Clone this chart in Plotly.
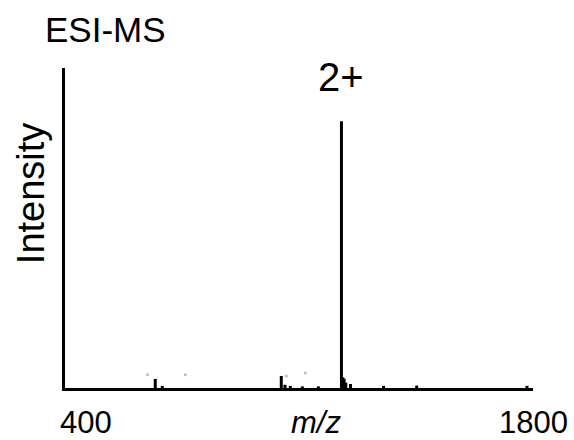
import plotly.graph_objects as go

# Centroided ESI-MS peak list (m/z, relative intensity)
peak_mz = [670, 691, 1047, 1058, 1074, 1110, 1158, 1227, 1231, 1235, 1240, 1254, 1353, 1452, 1782]
peak_intensity = [0.034, 0.008, 0.045, 0.012, 0.008, 0.006, 0.006, 1.0, 0.04, 0.035, 0.02, 0.015, 0.008, 0.009, 0.008]

# Scattered noise specks above the baseline
noise_mz = [647, 760, 1119, 1062]
noise_intensity = [0.05, 0.05, 0.056, 0.045]

x_range = [400, 1800]
y_range = [0, 1.2]
charge_label = "2+"
charge_peak_mz = 1227
charge_peak_intensity = 1.0

FONT = "Liberation Sans, Arial, sans-serif"

# Stick spectrum: one vertical segment per peak
xs, ys = [], []
for mz, inten in zip(peak_mz, peak_intensity):
    xs += [mz, mz, None]
    ys += [0, inten, None]

fig = go.Figure()
fig.add_trace(go.Scatter(x=xs, y=ys, mode="lines",
                         line=dict(color="black", width=3),
                         hoverinfo="skip", showlegend=False))
fig.add_trace(go.Scatter(x=noise_mz, y=noise_intensity, mode="markers",
                         marker=dict(color="#bbbbbb", size=3),
                         hoverinfo="skip", showlegend=False))

fig.update_xaxes(range=x_range, showline=True, linecolor="black", linewidth=3,
                 showgrid=False, zeroline=False, ticks="", showticklabels=False)
fig.update_yaxes(range=y_range, showline=True, linecolor="black", linewidth=3,
                 showgrid=False, zeroline=False, ticks="", showticklabels=False)

ann_font = dict(family=FONT, color="black", size=31)
fig.update_layout(
    width=574, height=440,
    margin=dict(l=65, r=41, t=68, b=52),
    plot_bgcolor="white", paper_bgcolor="white",
    annotations=[
        dict(text="ESI-MS", xref="paper", yref="paper", x=0.0855, y=1.119,
             showarrow=False, xanchor="center", yanchor="middle",
             font=dict(ann_font, size=35)),
        dict(text=charge_label, xref="x", yref="y", x=charge_peak_mz,
             y=charge_peak_intensity + 0.166, showarrow=False,
             xanchor="center", yanchor="middle", font=dict(ann_font, size=40)),
        dict(text="Intensity", xref="paper", yref="paper", x=-0.0726, y=0.609,
             textangle=-90, showarrow=False, xanchor="center", yanchor="middle",
             font=dict(ann_font, size=38)),
        dict(text=str(x_range[0]), xref="paper", yref="paper", x=0.0449, y=-0.109,
             showarrow=False, xanchor="center", yanchor="middle", font=ann_font),
        dict(text="<i>m/z</i>", xref="paper", yref="paper", x=0.536, y=-0.109,
             showarrow=False, xanchor="center", yanchor="middle", font=ann_font),
        dict(text=str(x_range[1]), xref="paper", yref="paper", x=1.0, y=-0.109,
             showarrow=False, xanchor="center", yanchor="middle", font=ann_font),
    ],
)

fig.write_html("out.html")
